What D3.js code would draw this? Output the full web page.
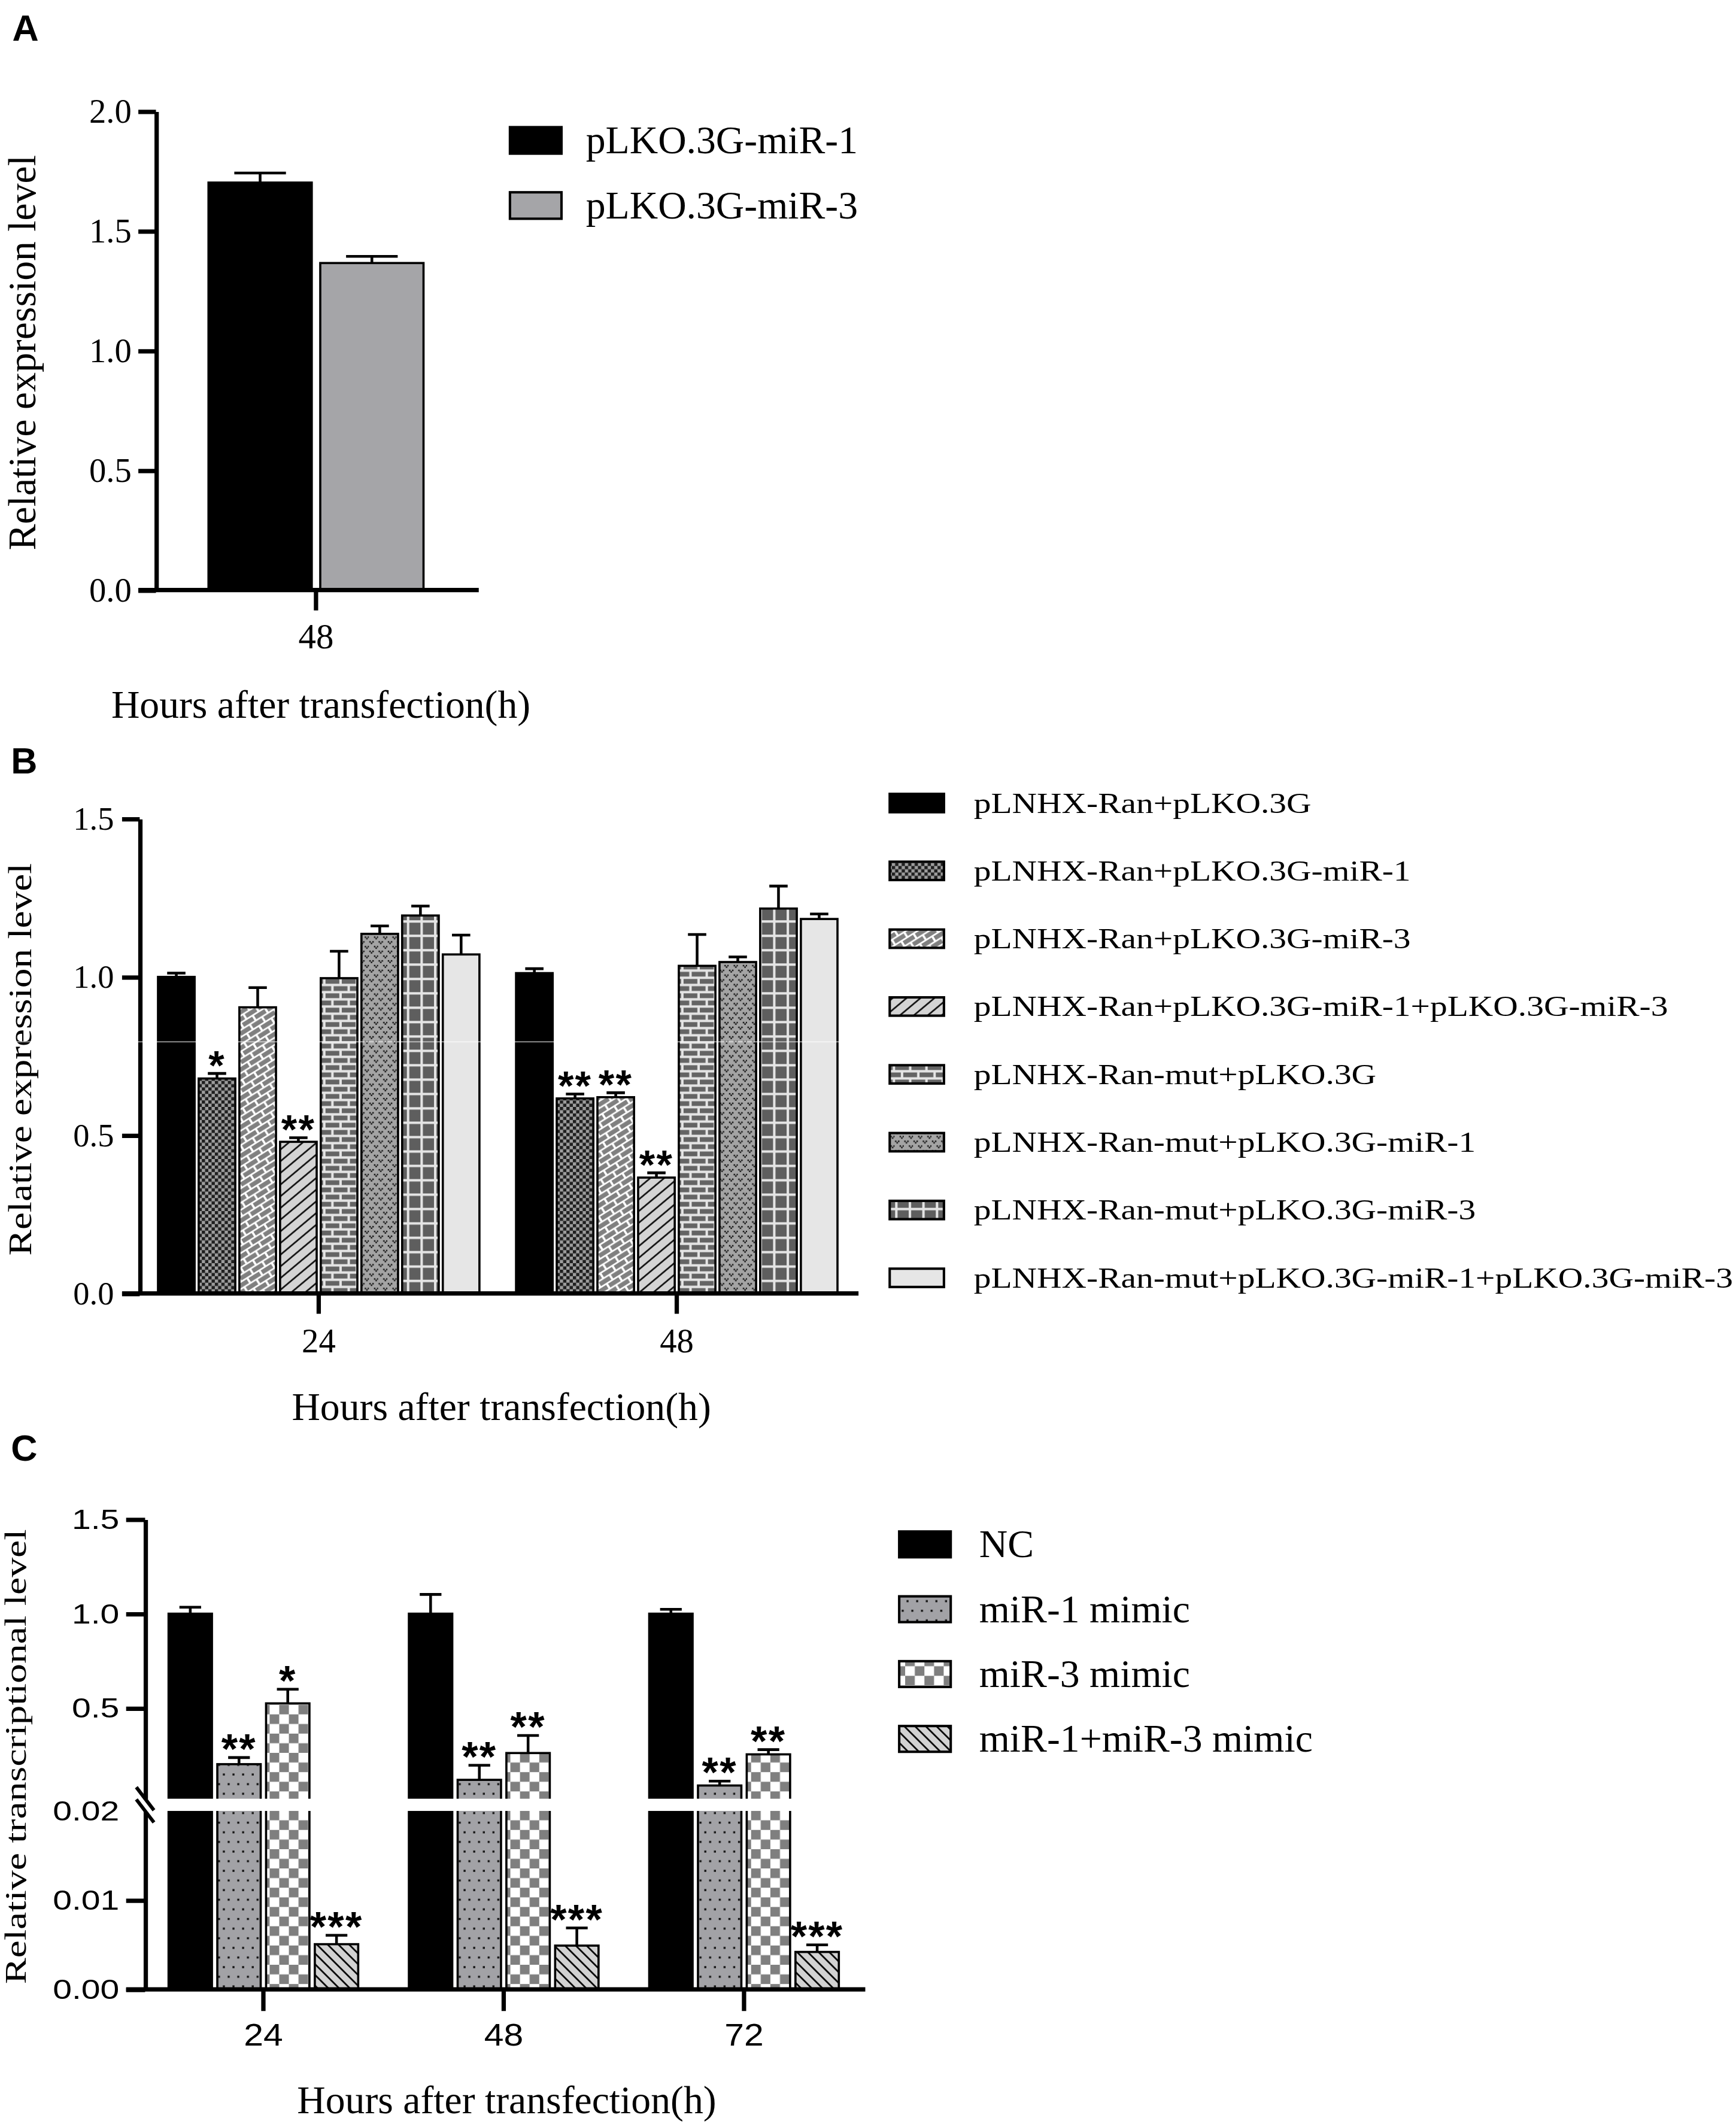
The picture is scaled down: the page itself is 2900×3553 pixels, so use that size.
<!DOCTYPE html>
<html>
<head>
<meta charset="utf-8">
<script src="https://cdn.jsdelivr.net/npm/d3@7/dist/d3.min.js"></script>
<style>
  html, body { margin: 0; padding: 0; background: #fff; }
  svg { display: block; }
</style>
</head>
<body>
<div id="figure"></div>
<script>

  "use strict";

 /* DATA
  * =============================== */

  // panel A
  var A_GROUPS = ["48"]
    , A_SERIES = ["pLKO.3G-miR-1", "pLKO.3G-miR-3"]
    , A_MEANS = [[1.702, 1.366]]
    , A_ERRORS = [[0.040, 0.028]]
    , A_TICKS = [0, 0.5, 1.0, 1.5, 2.0]

  // panel B
  var B_GROUPS = ["24", "48"]
    , B_SERIES = [
        "pLNHX-Ran+pLKO.3G"
      , "pLNHX-Ran+pLKO.3G-miR-1"
      , "pLNHX-Ran+pLKO.3G-miR-3"
      , "pLNHX-Ran+pLKO.3G-miR-1+pLKO.3G-miR-3"
      , "pLNHX-Ran-mut+pLKO.3G"
      , "pLNHX-Ran-mut+pLKO.3G-miR-1"
      , "pLNHX-Ran-mut+pLKO.3G-miR-3"
      , "pLNHX-Ran-mut+pLKO.3G-miR-1+pLKO.3G-miR-3"
      ]
    , B_MEANS = [
        [1.000, 0.679, 0.904, 0.479, 0.996, 1.136, 1.194, 1.071]
      , [1.012, 0.616, 0.620, 0.366, 1.035, 1.047, 1.216, 1.183]
      ]
    , B_ERRORS = [
        [0.012, 0.016, 0.062, 0.013, 0.085, 0.025, 0.030, 0.061]
      , [0.014, 0.014, 0.014, 0.015, 0.099, 0.016, 0.071, 0.016]
      ]
    , B_STARS = [
        ["", "*", "", "**", "", "", "", ""]
      , ["", "**", "**", "**", "", "", "", ""]
      ]
    , B_TICKS = [0, 0.5, 1.0, 1.5]

  // panel C (broken axis)
  var C_GROUPS = ["24", "48", "72"]
    , C_SERIES = ["NC", "miR-1 mimic", "miR-3 mimic", "miR-1+miR-3 mimic"]
    , C_MEANS = [
        [1.000, 0.203, 0.525, 0.00506]
      , [1.000, 0.120, 0.262, 0.00490]
      , [1.000, 0.090, 0.255, 0.00419]
      ]
    , C_ERRORS = [
        [0.034, 0.035, 0.075, 0.00100]
      , [0.102, 0.077, 0.093, 0.00198]
      , [0.023, 0.023, 0.025, 0.00079]
      ]
    , C_STARS = [
        ["", "**", "*", "***"]
      , ["", "**", "**", "***"]
      , ["", "**", "**", "***"]
      ]
    , C_TICKS_UPPER = [0.5, 1.0, 1.5]
    , C_TICKS_LOWER = [0, 0.01, 0.02]
    , C_BREAK = 0.02

 /* SETUP
  * =============================== */

  var W = 1280
    , H = 1568
    , SERIF = "'Liberation Serif', 'Times New Roman', serif"
    , SANS = "'Liberation Sans', Arial, sans-serif"
    , AXIS_W = 3.2
    , BAR_W = 1.6

  var svg = d3.select("#figure")
    .append("svg")
      .attr("width", 2900)
      .attr("height", 3553)
      .attr("viewBox", "0 0 " + W + " " + H)
      .attr("preserveAspectRatio", "none")

  svg.append("rect").attr("width", W).attr("height", H).attr("fill", "#fff")

  var defs = svg.append("defs")

  // helper for a tiled fill
  function pattern (id, w, h, bg, rotate) {
    var p = defs.append("pattern")
      .attr("id", id)
      .attr("patternUnits", "userSpaceOnUse")
      .attr("width", w)
      .attr("height", h)
    if (rotate) p.attr("patternTransform", "rotate(" + rotate + ")")
    p.append("rect").attr("width", w).attr("height", h).attr("fill", bg)
    return p
  }

  function squares (p, list, color) {
    list.forEach(function (r) {
      p.append("rect")
        .attr("x", r[0]).attr("y", r[1])
        .attr("width", r[2]).attr("height", r[3])
        .attr("fill", color)
    })
  }

  // panel B fills
  squares(pattern("bCheck", 4.8, 4.8, "#9d9d9d"), [[0, 0, 2.4, 2.4], [2.4, 2.4, 2.4, 2.4]], "#1f1f1f")
  squares(pattern("bDiagBrick", 10.6, 9, "#fff", -32), [[0.6, 0.6, 9, 3.3], [5.9, 5.1, 9, 3.3], [-4.7, 5.1, 9, 3.3]], "#808080")
  pattern("bHatch", 6.6, 6.6, "#d4d4d4", -40)
    .append("line").attr("x1", 0).attr("x2", 6.6).attr("y1", 3.3).attr("y2", 3.3)
      .attr("stroke", "#000").attr("stroke-width", 1.1)
  squares(pattern("bBrick", 12, 10.6, "#e4e4e4"), [[0, 0.9, 10.2, 3.5], [6, 6.2, 10.2, 3.5], [-6, 6.2, 10.2, 3.5]], "#646464")
  squares(pattern("bVDots", 6.8, 7, "#a4a4a4"), [
      [0.3, 0.8, 1.1, 1.1], [2.5, 0.8, 1.1, 1.1], [1.4, 1.9, 1.1, 1.1]
    , [3.7, 4.3, 1.1, 1.1], [5.9, 4.3, 1.1, 1.1], [4.8, 5.4, 1.1, 1.1]
    ], "#111")
  squares(pattern("bGrid", 10, 10.6, "#e4e4e4"), [[1.8, 1.8, 8.2, 8.8]], "#5e5e5e")

  // panel C fills
  squares(pattern("cDots", 7.1, 14.2, "#a2a2a6"), [[1, 1, 1.5, 1.5], [4.55, 8.1, 1.5, 1.5]], "#111")
  squares(pattern("cCheck", 14.2, 14.2, "#fff"), [[0, 0, 7.1, 7.1], [7.1, 7.1, 7.1, 7.1]], "#7f7f7f")
  pattern("cHatch", 5.6, 5.6, "#d2d2d2", 45)
    .append("line").attr("x1", 0).attr("x2", 5.6).attr("y1", 2.8).attr("y2", 2.8)
      .attr("stroke", "#000").attr("stroke-width", 1.2)

  var A_FILLS = ["#000", "#a5a5a8"]
    , B_FILLS = ["#000", "url(#bCheck)", "url(#bDiagBrick)", "url(#bHatch)", "url(#bBrick)", "url(#bVDots)", "url(#bGrid)", "#e6e6e6"]
    , C_FILLS = ["#000", "url(#cDots)", "url(#cCheck)", "url(#cHatch)"]

 /* HELPERS
  * =============================== */

  // text with an optional stretch along the writing direction
  function label (g, str, x, y, o) {
    o = o || {}
    var t = "translate(" + x + "," + y + ")"
    if (o.rotate) t += " rotate(" + o.rotate + ")"
    if (o.stretch) t += " scale(" + o.stretch + ",1)"
    return g.append("text")
      .attr("transform", t)
      .attr("text-anchor", o.anchor || "start")
      .attr("font-family", o.family || SERIF)
      .attr("font-size", o.size || 29)
      .attr("font-weight", o.weight || "normal")
      .attr("fill", "#000")
      .text(str)
  }

  function hline (g, x1, x2, y) {
    g.append("line")
      .attr("x1", x1).attr("x2", x2).attr("y1", y).attr("y2", y)
      .attr("stroke", "#000").attr("stroke-width", AXIS_W)
  }

  function leftAxis (g, x, scale, ticks, fmt, o) {
    var ax = g.append("g")
      .attr("transform", "translate(" + x + ",0)")
      .call(d3.axisLeft(scale).tickValues(ticks).tickFormat(d3.format(fmt))
        .tickSize(o.tick).tickSizeOuter(0).tickPadding(o.pad))
    ax.select(".domain").attr("stroke-width", AXIS_W)
    ax.selectAll(".tick line").attr("stroke-width", AXIS_W)
    var sx = o.stretch || 1
    ax.selectAll(".tick text")
      .attr("font-family", o.family)
      .attr("font-size", o.size)
      .attr("x", -(o.tick + o.pad) / sx)
      .attr("transform", "scale(" + sx + ",1)")
    return ax
  }

  function bottomAxis (g, y, scale, o) {
    var ax = g.append("g")
      .attr("transform", "translate(0," + y + ")")
      .call(d3.axisBottom(scale).tickSize(o.tick).tickSizeOuter(0))
    ax.select(".domain").remove()
    ax.selectAll(".tick line").attr("stroke-width", AXIS_W)
    ax.selectAll(".tick text")
      .attr("font-family", o.family)
      .attr("font-size", o.size)
      .attr("dy", 0)
      .attr("y", o.baseline)
      .attr("transform", "scale(" + (o.stretch || 1) + ",1)")
    return ax
  }

  // bars, one-sided error bars and significance marks
  function drawBars (g, cfg) {
    var inner = d3.scaleBand()
          .domain(d3.range(cfg.fills.length))
          .range([0, cfg.x.bandwidth()])
          .paddingInner(cfg.padIn)
          .paddingOuter(cfg.padOut)
      , bw = inner.bandwidth()
      , rows = []

    cfg.groups.forEach(function (grp, gi) {
      cfg.means[gi].forEach(function (v, si) {
        rows.push({
          x: cfg.x(grp) + inner(si)
        , v: v
        , e: cfg.errors[gi][si]
        , star: cfg.stars ? cfg.stars[gi][si] : ""
        , fill: cfg.fills[si]
        })
      })
    })

    var bars = g.append("g").selectAll("g")
      .data(rows)
      .enter().append("g")

    bars.append("rect")
      .attr("x", function (d) { return d.x })
      .attr("y", function (d) { return cfg.y(d.v) })
      .attr("width", bw)
      .attr("height", function (d) { return cfg.y(0) - cfg.y(d.v) })
      .attr("fill", function (d) { return d.fill })
      .attr("stroke", "#000")
      .attr("stroke-width", BAR_W)

    bars.append("path")
      .attr("d", function (d) {
        var cx = d.x + bw / 2
          , y0 = cfg.y(d.v)
          , y1 = cfg.y(d.v + d.e)
        return "M" + cx + "," + y0 + "V" + y1 + "M" + (cx - bw / 4) + "," + y1 + "H" + (cx + bw / 4)
      })
      .attr("fill", "none")
      .attr("stroke", "#000")
      .attr("stroke-width", 2)

    // asterisks sit a few pixels above the error cap
    bars.filter(function (d) { return d.star })
      .append("text")
        .attr("x", function (d) { return d.x + bw / 2 })
        .attr("y", function (d) { return cfg.y(d.v + d.e) + 0.29 * cfg.starSize - 4.5 })
        .attr("text-anchor", "middle")
        .attr("font-family", SANS)
        .attr("font-weight", "bold")
        .attr("font-size", cfg.starSize)
        .attr("letter-spacing", 1)
        .text(function (d) { return d.star })
  }

  function legend (g, names, fills, o) {
    names.forEach(function (name, i) {
      var cy = o.y + i * o.step
      g.append("rect")
        .attr("x", o.x).attr("y", cy - o.h / 2)
        .attr("width", o.w).attr("height", o.h)
        .attr("fill", fills[i])
        .attr("stroke", "#000")
        .attr("stroke-width", 1.8)
      label(g, name, o.tx, cy + o.dy, { size: o.size, stretch: o.stretch })
    })
  }

 /* PANEL A
  * =============================== */

  var gA = svg.append("g")
    , yA = d3.scaleLinear().domain([0, 2]).range([435, 82])
    , xA = d3.scaleBand().domain(A_GROUPS).range([115, 351])

  drawBars(gA, {
    groups: A_GROUPS, means: A_MEANS, errors: A_ERRORS, fills: A_FILLS
  , x: xA, y: yA, padIn: 0.076, padOut: 0.47, starSize: 30
  })
  leftAxis(gA, 115, yA, A_TICKS, ".1f", { tick: 13, pad: 5, family: SERIF, size: 25 })
  hline(gA, 102, 353, yA(0))
  bottomAxis(gA, yA(0), xA, { tick: 15, baseline: 43, family: SERIF, size: 26 })

  legend(gA, A_SERIES, A_FILLS, { x: 376, y: 103.5, step: 48, w: 38, h: 19.5, tx: 432, dy: 9.5, size: 29 })

  label(gA, "Hours after transfection(h)", 236.6, 529, { anchor: "middle", size: 29 })
  label(gA, "Relative expression level", 26, 260, { anchor: "middle", size: 29, rotate: -90 })
  label(gA, "A", 9, 30, { family: SANS, weight: "bold", size: 27 })

 /* PANEL B
  * =============================== */

  var gB = svg.append("g")
    , yB = d3.scaleLinear().domain([0, 1.5]).range([953.5, 603.5])
    , xB = d3.scaleBand().domain(B_GROUPS).range([103, 631])

  drawBars(gB, {
    groups: B_GROUPS, means: B_MEANS, errors: B_ERRORS, stars: B_STARS, fills: B_FILLS
  , x: xB, y: yB, padIn: 0.1, padOut: 0.45, starSize: 30
  })
  leftAxis(gB, 103, yB, B_TICKS, ".1f", { tick: 13, pad: 6, family: SERIF, size: 24 })
  hline(gB, 90, 633, yB(0))
  bottomAxis(gB, yB(0), xB, { tick: 15, baseline: 43.5, family: SERIF, size: 25 })

  legend(gB, B_SERIES, B_FILLS, { x: 656, y: 592, step: 50, w: 40, h: 13.5, tx: 718, dy: 7.1, size: 21.5, stretch: 1.18 })

  label(gB, "Hours after transfection(h)", 369.7, 1047, { anchor: "middle", size: 29 })
  label(gB, "Relative expression level", 23, 781, { anchor: "middle", size: 24, rotate: -90, stretch: 1.2 })
  label(gB, "B", 8, 570, { family: SANS, weight: "bold", size: 27 })

  // faint scan line that crosses the middle figure
  svg.append("line")
    .attr("x1", 0).attr("x2", W).attr("y1", 768).attr("y2", 768)
    .attr("stroke", "#fff").attr("stroke-opacity", 0.55).attr("stroke-width", 0.9)

 /* PANEL C
  * =============================== */

  var gC = svg.append("g")
    , yUp = d3.scaleLinear().domain([C_BREAK, 1.5]).range([1326, 1120])
    , yLo = d3.scaleLinear().domain([0, C_BREAK]).range([1466.5, 1335])
    , yC = function (v) { return v > C_BREAK ? yUp(v) : yLo(v) }
    , xC = d3.scaleBand().domain(C_GROUPS).range([105.6, 637.2])

  drawBars(gC, {
    groups: C_GROUPS, means: C_MEANS, errors: C_ERRORS, stars: C_STARS, fills: C_FILLS
  , x: xC, y: yC, padIn: 0.11, padOut: 0.52, starSize: 31
  })

  // gap of the broken axis
  gC.append("rect")
    .attr("x", 100).attr("width", 545)
    .attr("y", yUp(C_BREAK)).attr("height", yLo(C_BREAK) - yUp(C_BREAK))
    .attr("fill", "#fff")

  var cTick = { tick: 14, pad: 5, family: SANS, size: 20.5, stretch: 1.23 }
  leftAxis(gC, 107, yUp, C_TICKS_UPPER, ".1f", cTick)
  var lower = leftAxis(gC, 107, yLo, C_TICKS_LOWER, ".2f", cTick)
  lower.selectAll(".tick").filter(function (d) { return d === C_BREAK })
    .select("line").remove()

  // break marks
  gC.selectAll(".brk")
    .data([yUp(C_BREAK), yLo(C_BREAK)])
    .enter().append("line")
      .attr("x1", 107 - 6.5).attr("x2", 107 + 6.5)
      .attr("y1", function (d) { return d - 8.5 }).attr("y2", function (d) { return d + 8.5 })
      .attr("stroke", "#000").attr("stroke-width", 2.6)

  hline(gC, 93, 638, yLo(0))
  bottomAxis(gC, yLo(0), xC, { tick: 16, baseline: 41.5, family: SANS, size: 22.6, stretch: 1.15 })

  legend(gC, C_SERIES, C_FILLS, { x: 663, y: 1138.5, step: 47.8, w: 38, h: 19, tx: 722, dy: 9.5, size: 29 })

  label(gC, "Hours after transfection(h)", 373.6, 1558, { anchor: "middle", size: 29 })
  label(gC, "Relative transcriptional level", 19, 1295, { anchor: "middle", size: 22, rotate: -90, stretch: 1.32 })
  label(gC, "C", 8, 1077, { family: SANS, weight: "bold", size: 27 })

</script>
</body>
</html>
